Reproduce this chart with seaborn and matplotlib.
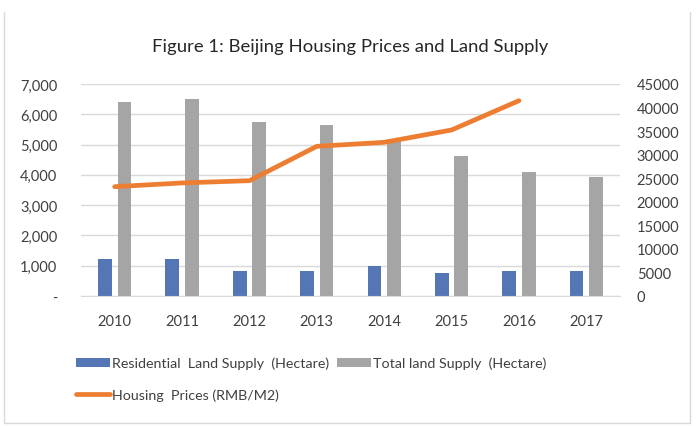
import seaborn as sns
import numpy as np
import pandas as pd
import matplotlib.pyplot as plt
from matplotlib.lines import Line2D
from matplotlib.ticker import FuncFormatter

years = ['2010', '2011', '2012', '2013', '2014', '2015', '2016', '2017']
residential = [1220, 1220, 835, 830, 1000, 760, 835, 835]
total_land = [6390, 6500, 5730, 5650, 5180, 4630, 4100, 3915]
price_years = ['2010', '2011', '2012', '2013', '2014', '2015', '2016']
prices = [23200, 24000, 24480, 31770, 32620, 35240, 41460]

res_label = 'Residential  Land Supply  (Hectare)'
tot_label = 'Total land Supply  (Hectare)'
price_label = 'Housing  Prices (RMB/M2)'

df = pd.DataFrame({'year': years, res_label: residential, tot_label: total_land})
df = df.melt(id_vars='year', var_name='series', value_name='value')

sns.set_style('white')
plt.rcParams['font.family'] = ['Lato', 'DejaVu Sans']

fig = plt.figure(figsize=(7, 4.27), dpi=100)
ax = fig.add_axes([81 / 700, 1 - 297 / 427, 539 / 700, 212 / 427])

sns.barplot(data=df, x='year', y='value', hue='series', ax=ax,
            palette=['#4472C4', '#A5A5A5'], width=0.58, gap=0.3,
            edgecolor='none', linewidth=0)
handles, labels = ax.get_legend_handles_labels()
ax.get_legend().remove()

ax.set_ylim(0, 7000)
ax.set_yticks(range(0, 7001, 1000))
ax.yaxis.set_major_formatter(FuncFormatter(lambda v, p: '-' if v == 0 else f'{int(v):,}'))
ax.grid(axis='y', color='#D9D9D9', linewidth=1)
ax.set_axisbelow(True)
ax.set_xlabel('')
ax.set_ylabel('')
for s in ax.spines.values():
    s.set_visible(False)
ax.spines['bottom'].set_visible(True)
ax.spines['bottom'].set_color('#D9D9D9')
ax.tick_params(axis='both', length=0, labelsize=10.5, colors='#404040')
ax.tick_params(axis='x', pad=13)
ax.tick_params(axis='y', pad=17)

ax2 = ax.twinx()
pos = [years.index(y) for y in price_years]
sns.lineplot(x=pos, y=prices, ax=ax2, color='#ED7D31', linewidth=3.4, legend=False)
ax2.set_ylim(0, 45000)
ax2.set_yticks(range(0, 45001, 5000))
for s in ax2.spines.values():
    s.set_visible(False)
ax2.tick_params(axis='y', length=0, labelsize=10.5, colors='#404040', pad=12)
ax.set_xlim(-0.5, 7.5)

fig.text(0.5, 1 - 47 / 427, 'Figure 1: Beijing Housing Prices and Land Supply',
         ha='center', va='center', fontsize=13.3, color='#262626')

line_handle = Line2D([0], [0], color='#ED7D31', linewidth=3.4, solid_capstyle='round')
fig.legend([handles[0], line_handle, handles[1]], [labels[0], price_label, labels[1]],
           ncol=2, loc='upper left', bbox_to_anchor=(63 / 700, 1 - 345 / 427),
           frameon=False, fontsize=10.3, handlelength=2.4, handleheight=0.6,
           handletextpad=0.15, columnspacing=0.5, labelspacing=1.35,
           labelcolor='#404040')

# chart border
for xs, ys in [([4, 4], [13, 424]), ([690, 690], [13, 424]), ([4, 690], [424, 424])]:
    fig.add_artist(Line2D([x / 700 for x in xs], [1 - y / 427 for y in ys],
                          color='#D9D9D9', linewidth=1))

fig.savefig('out.png', dpi=100)
